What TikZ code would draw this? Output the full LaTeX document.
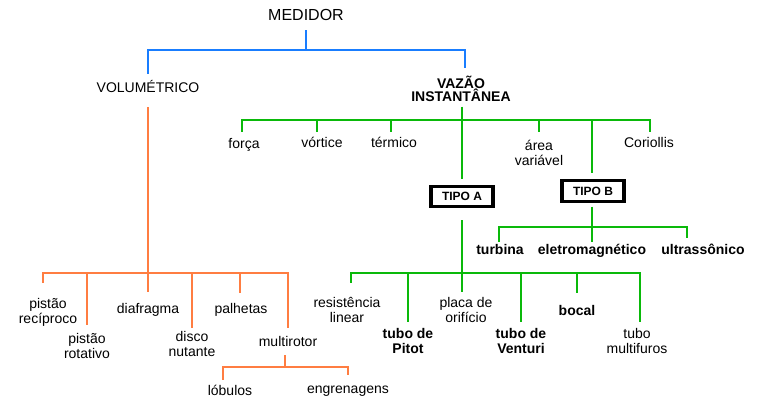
\documentclass[tikz,border=0pt]{standalone}
\usepackage{fontspec}
\setmainfont{Liberation Sans}
\definecolor{azul}{RGB}{25,125,255}
\definecolor{verde}{RGB}{10,185,10}
\definecolor{laranja}{RGB}{255,125,65}
\begin{document}
\begin{tikzpicture}[x=1pt, y=-1pt, line join=miter, every node/.style={inner sep=0pt, outer sep=0pt, align=center, anchor=north, font=\fontsize{14}{15}\selectfont}, negrito/.style={font=\fontsize{14}{15}\selectfont\bfseries}, tipo/.style={draw, line width=3.5pt, minimum width=62pt, minimum height=20pt, anchor=center, font=\fontsize{12}{13}\selectfont\bfseries}, linhaazul/.style={draw=azul, line width=2.6pt}, linhaverde/.style={draw=verde, line width=2.6pt}, linhalaranja/.style={draw=laranja, line width=2.6pt}]
        \useasboundingbox (0,0) rectangle (758,405);
        % topo
        \node[font=\fontsize{16}{17}\selectfont] (medidor) at (306,9) {MEDIDOR};
        \node (volum) at (148,80) {VOLUMÉTRICO};
        \node[font=\fontsize{14}{13}\selectfont\bfseries] (vazao) at (461,76) {VAZÃO\\INSTANTÂNEA};
        \coordinate (bazul) at (306,50);
        \draw[linhaazul, shorten <=10pt] (medidor.south) -- (bazul);
        \draw[linhaazul, shorten >=6pt] (bazul) -| (volum.north);
        \draw[linhaazul, shorten >=8pt] (bazul) -| ([xshift=4pt]vazao.north);
        % vazao instantanea
        \node[tipo] (tipoA) at (462,196.5) {TIPO A};
        \node[tipo, minimum height=21pt] (tipoB) at (593,191) {TIPO B};
        \node (forca) at (244,138) {força};
        \node (vortice) at (322,137) {vórtice};
        \node (termico) at (394,137) {térmico};
        \node (area) at (539,140) {área\\variável};
        \node (coriollis) at (649,137) {Coriollis};
        \coordinate (bverde) at (462,120);
        \draw[linhaverde, shorten <=5pt, shorten >=7.5pt] (vazao.south -| tipoA) -- (tipoA.north);
        \draw[linhaverde, shorten >=6pt] (bverde) -| ([xshift=-2pt]forca.north);
        \draw[linhaverde, shorten >=5pt] (bverde) -| ([xshift=-5pt]vortice.north);
        \draw[linhaverde, shorten >=5pt] (bverde) -| ([xshift=-3pt]termico.north);
        \draw[linhaverde, shorten >=8pt] (bverde) -| (area.north);
        \draw[linhaverde, shorten >=7.5pt] (bverde) -| ([xshift=-1pt]tipoB.north);
        \draw[linhaverde, shorten >=5pt] (bverde) -| ([xshift=1pt]coriollis.north);
        % tipo B
        \node[negrito] (turbina) at (500,244) {turbina};
        \node[negrito] (eletro) at (592,244) {eletromagnético};
        \node[negrito] (ultra) at (703,244) {ultrassônico};
        \coordinate (bverde3) at (592,227);
        \draw[linhaverde, shorten <=5pt, shorten >=2pt] ([xshift=-1pt]tipoB.south) -- (eletro.north);
        \draw[linhaverde, shorten >=2pt] (bverde3) -| ([xshift=-1pt]turbina.north);
        \draw[linhaverde, shorten >=6pt] (bverde3) -| ([xshift=-16pt]ultra.north);
        % tipo A
        \node (resist) at (347,297) {resistência\\linear};
        \node[negrito] (pitot) at (408,328) {tubo de\\Pitot};
        \node (placa) at (466,297) {placa de\\orifício};
        \node[negrito] (venturi) at (521,328) {tubo de\\Venturi};
        \node[negrito] (bocal) at (577,305) {bocal};
        \node (multif) at (637,328) {tubo\\multifuros};
        \coordinate (bverde2) at (462,273);
        \draw[linhaverde, shorten <=13.5pt, shorten >=5pt] (tipoA.south) -- (tipoA.south |- placa.north);
        \draw[linhaverde, shorten >=14pt] (bverde2) -| ([xshift=4pt]resist.north);
        \draw[linhaverde, shorten >=6pt] (bverde2) -| (pitot.north);
        \draw[linhaverde, shorten >=6pt] (bverde2) -| (venturi.north);
        \draw[linhaverde, shorten >=12pt] (bverde2) -| (bocal.north);
        \draw[linhaverde, shorten >=6pt] (bverde2) -| ([xshift=3pt]multif.north);
        % volumetrico
        \node (pistrec) at (48,298) {pistão\\recíproco};
        \node (pistrot) at (87,333) {pistão\\rotativo};
        \node (diafragma) at (148,303) {diafragma};
        \node (disco) at (192,331) {disco\\nutante};
        \node (palhetas) at (241,303) {palhetas};
        \node (multi) at (288,336) {multirotor};
        \coordinate (blaranja) at (148,273);
        \draw[linhalaranja, shorten <=15pt] (volum.south) -- (blaranja);
        \draw[linhalaranja, shorten >=15pt] (blaranja) -| ([xshift=-5pt]pistrec.north);
        \draw[linhalaranja, shorten >=8pt] (blaranja) -| (pistrot.north);
        \draw[linhalaranja, shorten >=11pt] (blaranja) -| (diafragma.north);
        \draw[linhalaranja, shorten >=3pt] (blaranja) -| (disco.north);
        \draw[linhalaranja, shorten >=10pt] (blaranja) -| ([xshift=-1pt]palhetas.north);
        \draw[linhalaranja, shorten >=8pt] (blaranja) -| (multi.north);
        % multirotor
        \node (lobulos) at (230,385) {lóbulos};
        \node (engren) at (348,386) {engrenagens};
        \coordinate (bmulti) at (285,367);
        \draw[linhalaranja, shorten <=9pt] (multi.south -| bmulti) -- (bmulti);
        \draw[linhalaranja, shorten >=5pt] (bmulti) -| ([xshift=-7pt]lobulos.north);
        \draw[linhalaranja, shorten >=11pt] (bmulti) -| (engren.north);
    \end{tikzpicture}
\end{document}
